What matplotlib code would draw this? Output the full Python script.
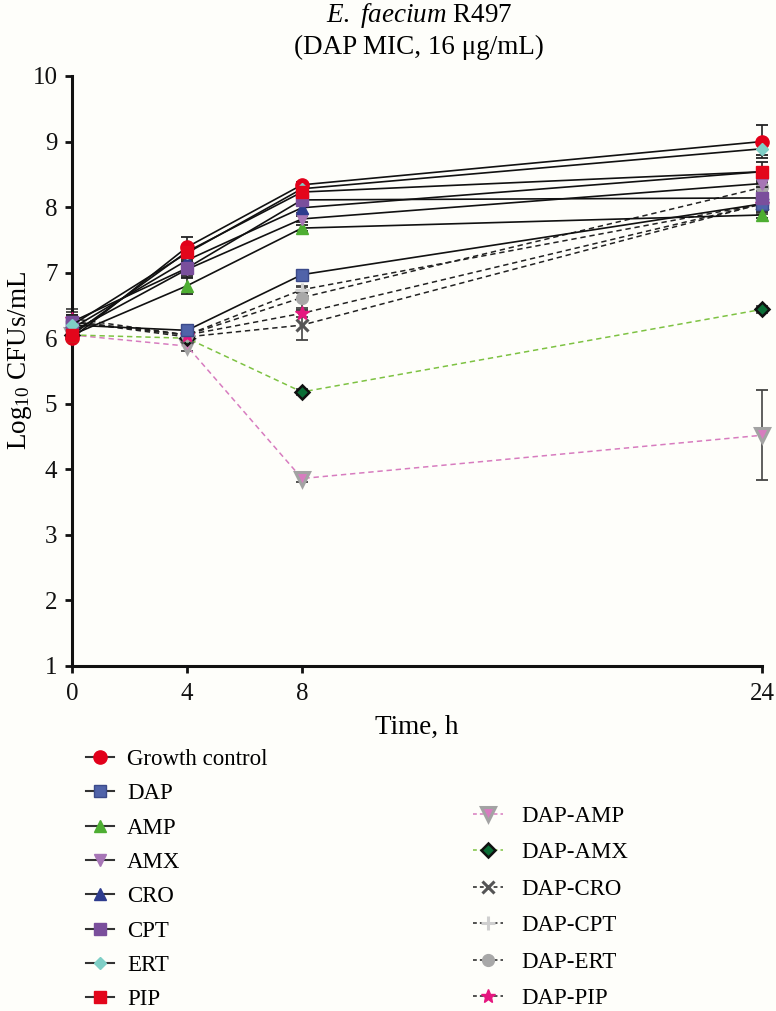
import matplotlib
matplotlib.use("Agg")
import matplotlib.pyplot as plt
from matplotlib.lines import Line2D

# -----------------------------
# Data
# -----------------------------
times = [0, 4, 8, 24]

gc = [6.00, 7.39, 8.34, 9.00]
dap = [6.20, 6.12, 6.97, 8.05]
amp = [6.05, 6.80, 7.68, 7.88]
amx = [6.10, 7.05, 7.82, 8.36]
cro = [6.15, 7.19, 7.99, 8.54]
cpt = [6.25, 7.07, 8.11, 8.14]
ert = [6.20, 7.30, 8.28, 8.89]
pip = [6.05, 7.32, 8.23, 8.54]

gc_err = [0.05, 0.16, 0.05, 0.25]
dap_err = [0.08, 0.05, 0.06, 0.10]
amp_err = [0.05, 0.12, 0.05, 0.05]
amx_err = [0.05, 0.12, 0.05, 0.05]
cro_err = [0.05, 0.08, 0.08, 0.05]
cpt_err = [0.10, 0.10, 0.05, 0.05]
ert_err = [0.10, 0.10, 0.05, 0.10]
pip_err = [0.10, 0.10, 0.05, 0.15]

dap_amp = [6.05, 5.88, 3.86, 4.52]
dap_amx = [6.05, 6.00, 5.18, 6.44]
dap_cro = [6.25, 6.02, 6.20, 8.05]
dap_cpt = [6.25, 6.05, 6.74, 8.05]
dap_ert = [6.25, 6.05, 6.62, 8.30]
dap_pip = [6.30, 6.05, 6.38, 8.05]

dap_amp_err = [0.05, 0.08, 0.05, 0.69]
dap_amx_err = [0.05, 0.05, 0.05, 0.05]
dap_cro_err = [0.10, 0.05, 0.23, 0.15]
dap_cpt_err = [0.10, 0.05, 0.05, 0.05]
dap_ert_err = [0.20, 0.05, 0.16, 0.05]
dap_pip_err = [0.10, 0.05, 0.05, 0.05]

x_ticks = [0, 4, 8, 24]
y_ticks = [1, 2, 3, 4, 5, 6, 7, 8, 9, 10]

# -----------------------------
# Styles
# -----------------------------
plt.rcParams["font.family"] = ["Liberation Serif", "DejaVu Serif"]
plt.rcParams["mathtext.fontset"] = "custom"
plt.rcParams["mathtext.rm"] = "Liberation Serif"
plt.rcParams["mathtext.it"] = "Liberation Serif:italic"
FS_TICK = 18
FS_LAB = 19.5
FS_LEG = 16.5
bg = "#fefefa"

single = [
    ("Growth control", gc, gc_err, dict(marker="o", ms=9.5, mfc="#e2001a", mec="#e2001a")),
    ("DAP", dap, dap_err, dict(marker="s", ms=8.5, mfc="#5063a9", mec="#3b4a8a")),
    ("AMP", amp, amp_err, dict(marker="^", ms=9, mfc="#4eae32", mec="#4eae32")),
    ("AMX", amx, amx_err, dict(marker="v", ms=9, mfc="#a776b6", mec="#a776b6")),
    ("CRO", cro, cro_err, dict(marker="^", ms=9, mfc="#2e3c8e", mec="#2e3c8e")),
    ("CPT", cpt, cpt_err, dict(marker="s", ms=8.5, mfc="#7a4f9c", mec="#7a4f9c")),
    ("ERT", ert, ert_err, dict(marker="D", ms=6.5, mfc="#7fcfc6", mec="#7fcfc6")),
    ("PIP", pip, pip_err, dict(marker="s", ms=8.5, mfc="#e3061b", mec="#e3061b")),
]

combos = [
    ("DAP-AMP", dap_amp, dap_amp_err, "#d77cbf",
     dict(marker="v", ms=10, mfc="#d77cbf", mec="#a3a3a3", mew=2.2)),
    ("DAP-AMX", dap_amx, dap_amx_err, "#7dc242",
     dict(marker="D", ms=7, mfc="#0b6e36", mec="#111111", mew=1.8)),
    ("DAP-CRO", dap_cro, dap_cro_err, "#222222",
     dict(marker="x", ms=9, mfc="#555555", mec="#555555", mew=2.2)),
    ("DAP-CPT", dap_cpt, dap_cpt_err, "#222222",
     dict(marker="+", ms=10, mfc="#cfcfcf", mec="#cfcfcf", mew=2.2)),
    ("DAP-ERT", dap_ert, dap_ert_err, "#222222",
     dict(marker="o", ms=8.5, mfc="#a8a8a8", mec="#a8a8a8")),
    ("DAP-PIP", dap_pip, dap_pip_err, "#222222",
     dict(marker="*", ms=10, mfc="#e5177f", mec="#e5177f")),
]

# -----------------------------
# Figure
# -----------------------------
fig = plt.figure(figsize=(7.76, 10.11), dpi=100, facecolor=bg)
ax = fig.add_axes([72 / 776, 1 - 666 / 1011, 690 / 776, 590 / 1011], facecolor=bg)

for label, vals, err, color, mk in combos:
    ax.errorbar(times, vals, yerr=err, ecolor="#444444", elinewidth=1.2,
                capsize=4.3, capthick=1.3, fmt="none", clip_on=False, zorder=2)
    ax.plot(times, vals, color=color, lw=1.1, ls=(0, (3.5, 2.5)),
            clip_on=False, zorder=3, **mk)

for label, vals, err, mk in single:
    ax.errorbar(times, vals, yerr=err, ecolor="#222222", elinewidth=1.2,
                capsize=4.3, capthick=1.3, fmt="none", clip_on=False, zorder=4)
    ax.plot(times, vals, color="#111111", lw=1.2, clip_on=False, zorder=5, **mk)

ax.set_xlim(0, 24)
ax.set_ylim(1, 10)
ax.set_xticks(x_ticks)
ax.set_yticks(y_ticks)
ax.tick_params(labelsize=FS_TICK, width=2, length=5, direction="out", colors="#111111")
ax.tick_params(axis="x", pad=7.5)
ax.tick_params(axis="y", pad=5.5)
for side in ["top", "right"]:
    ax.spines[side].set_visible(False)
for side in ["left", "bottom"]:
    ax.spines[side].set_linewidth(2.2)
    ax.spines[side].set_color("#111111")

fig.text(419 / 776, 1 - 16 / 1011, r"$\mathit{E.\ faecium}$ R497", ha="center", va="center", fontsize=FS_LAB)
fig.text(419 / 776, 1 - 47 / 1011, "(DAP MIC, 16 μg/mL)", ha="center", va="center", fontsize=FS_LAB)
fig.text(20 / 776, 1 - 360 / 1011, r"Log$_{10}$ CFUs/mL", rotation=90, ha="center", va="center", fontsize=FS_LAB)
fig.text(417 / 776, 1 - 727 / 1011, "Time, h", ha="center", va="center", fontsize=FS_LAB)

# -----------------------------
# Legends
# -----------------------------
left_handles = [Line2D([], [], color="#333333", lw=1.5, **mk) for _, _, _, mk in single]
left_labels = [lab for lab, _, _, _ in single]
right_handles = [Line2D([], [], color=c, lw=1.1, ls=(0, (2.5, 2)), **mk) for _, _, _, c, mk in combos]
right_labels = [lab for lab, _, _, _, _ in combos]

leg1 = fig.legend(left_handles, left_labels, loc="upper left",
                  bbox_to_anchor=(86 / 776, 1 - 749 / 1011), frameon=False,
                  fontsize=FS_LEG, handlelength=1.2, handletextpad=0.6,
                  labelspacing=0.58, borderpad=0, borderaxespad=0)
leg2 = fig.legend(right_handles, right_labels, loc="upper left",
                  bbox_to_anchor=(473 / 776, 1 - 806 / 1011), frameon=False,
                  fontsize=FS_LEG, handlelength=1.3, handletextpad=0.8,
                  labelspacing=0.67, borderpad=0, borderaxespad=0)

fig.savefig("out.png", dpi=100, facecolor=bg)
